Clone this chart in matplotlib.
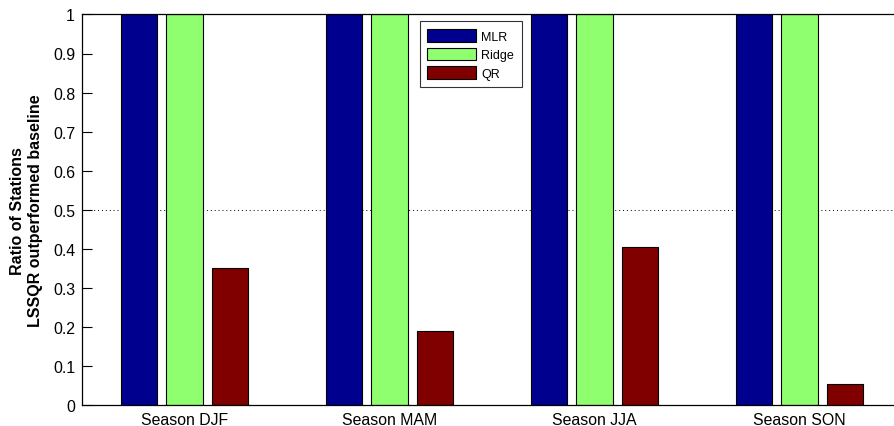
import numpy as np
import matplotlib.pyplot as plt

plt.rcParams['font.family'] = ['Liberation Sans', 'DejaVu Sans']

seasons = ['Season DJF', 'Season MAM', 'Season JJA', 'Season SON']
methods = ['MLR', 'Ridge', 'QR']
mlr = [1.0, 1.0, 1.0, 1.0]
ridge = [1.0, 1.0, 1.0, 1.0]
qr = [0.352, 0.19, 0.405, 0.054]
colors = ['#00008F', '#8FFF6F', '#800000']

fig = plt.figure(figsize=(8.94, 4.27), dpi=100)
# axes runs a little past the right edge of the figure
ax = fig.add_axes([82 / 894, 20.6 / 427, 820 / 894, 391 / 427])

x = np.arange(1, len(seasons) + 1)
step = 2.0 / 9.0
width = 0.8 * step
for i, (vals, name) in enumerate(zip([mlr, ridge, qr], methods)):
    ax.bar(x + (i - 1) * step, vals, width, color=colors[i], edgecolor='black',
           linewidth=0.8, label=name, zorder=2)

ax.axhline(0.5, color='black', linestyle=(0, (1, 3)), linewidth=0.7, zorder=1)

ax.set_xlim(0.5, 4.5)
ax.set_ylim(0, 1)
ax.set_xticks(x)
ax.set_xticklabels(seasons, fontsize=11.4)
ax.set_yticks(np.arange(0, 1.01, 0.1))
ax.set_yticklabels(['0'] + ['%.1f' % v for v in np.arange(0.1, 0.95, 0.1)] + ['1'], fontsize=11.4)
ax.tick_params(direction='in', length=7, width=0.8, top=False, right=False, pad=5)
ax.set_axisbelow(True)
for s in ax.spines.values():
    s.set_linewidth(0.9)

ax.set_ylabel('Ratio of Stations\nLSSQR outperformed baseline', fontsize=11.5,
              fontweight='bold', labelpad=7, linespacing=1.3)

leg = ax.legend(loc='upper left', bbox_to_anchor=((420 - 82) / 820, (406 - 22) / 391),
                fontsize=9, frameon=True, fancybox=False, edgecolor='black',
                handlelength=3.9, handleheight=1.2, borderpad=0.6, labelspacing=0.4,
                handletextpad=0.4, borderaxespad=0)
leg.get_frame().set_linewidth(0.8)

plt.savefig('out.png', dpi=100)
